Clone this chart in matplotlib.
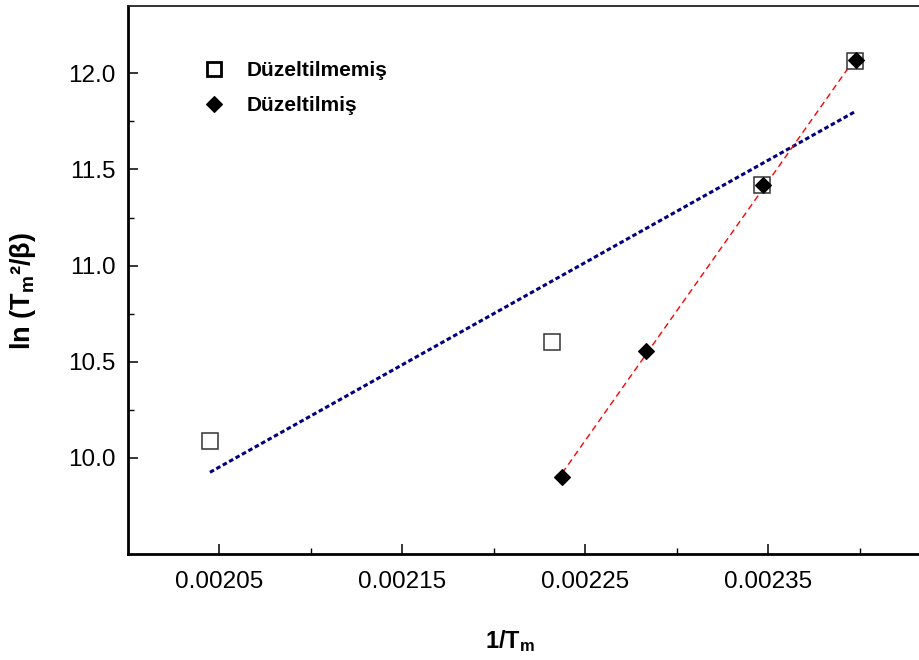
import numpy as np
import matplotlib
matplotlib.use("Agg")
import matplotlib.pyplot as plt
from matplotlib.ticker import FixedLocator, NullFormatter

# ---- data ----
x_uncorr = [0.0020448, 0.0022319, 0.0023468, 0.0023976]
y_uncorr = [10.09, 10.603, 11.418, 12.066]
x_corr = [0.0022374, 0.0022833, 0.0023473, 0.0023982]
y_corr = [9.903, 10.557, 11.418, 12.071]
label_uncorr = "Düzeltilmemiş"
label_corr = "Düzeltilmiş"
xtick_vals = [0.00205, 0.00215, 0.00225, 0.00235]
xtick_labels = ["0.00205", "0.00215", "0.00225", "0.00235"]
xminor_vals = [0.00210, 0.00220, 0.00230, 0.00240]
ytick_vals = [10.0, 10.5, 11.0, 11.5, 12.0]
ytick_labels = ["10.0", "10.5", "11.0", "11.5", "12.0"]
yminor_vals = [10.25, 10.75, 11.25, 11.75]

plt.rcParams['font.family'] = ['Liberation Sans', 'DejaVu Sans']
plt.rcParams['mathtext.fontset'] = 'custom'
plt.rcParams['mathtext.rm'] = 'Liberation Sans'
plt.rcParams['mathtext.bf'] = 'Liberation Sans:bold'
plt.rcParams['mathtext.it'] = 'Liberation Sans:italic'

fig = plt.figure(figsize=(9.2, 6.6), dpi=100)
ax = fig.add_axes([128/920, 1 - 554/660, 792/920, 548/660])

# regression lines
p1 = np.polyfit(x_uncorr, y_uncorr, 1)
xs1 = np.array([min(x_uncorr), max(x_uncorr)])
ax.plot(xs1, np.polyval(p1, xs1), color='#000080', lw=2.2,
        linestyle=(0, (1.5, 0.9)), zorder=2)
p2 = np.polyfit(x_corr, y_corr, 1)
xs2 = np.array([min(x_corr), max(x_corr)])
ax.plot(xs2, np.polyval(p2, xs2), color='#ff0000', lw=1.0,
        linestyle=(0, (4.5, 3)), zorder=2)

ax.plot(x_uncorr, y_uncorr, linestyle='none', marker='s', ms=12,
        mfc='white', mec='#333333', mew=1.1, zorder=3, label=label_uncorr)
ax.plot(x_corr, y_corr, linestyle='none', marker='D', ms=7.8,
        mfc='black', mec='black', mew=0.8, zorder=4, label=label_corr)

ax.set_xlim(0.0020, 0.002433)
ax.set_ylim(9.5, 12.35)

ax.xaxis.set_major_locator(FixedLocator(xtick_vals))
ax.set_xticklabels(xtick_labels)
ax.xaxis.set_minor_locator(FixedLocator(xminor_vals))
ax.yaxis.set_major_locator(FixedLocator(ytick_vals))
ax.set_yticklabels(ytick_labels)
ax.yaxis.set_minor_locator(FixedLocator(yminor_vals))
ax.xaxis.set_minor_formatter(NullFormatter())
ax.yaxis.set_minor_formatter(NullFormatter())

ax.tick_params(which='major', direction='in', length=7, width=1.1,
               labelsize=17.5, top=False, right=False)
ax.tick_params(axis='x', which='major', pad=12)
ax.tick_params(axis='y', which='major', pad=9)
ax.tick_params(which='minor', direction='in', length=4, width=1.0,
               top=False, right=False)

ax.spines['left'].set_linewidth(2.0)
ax.spines['bottom'].set_linewidth(2.0)
ax.spines['top'].set_linewidth(1.3)
ax.spines['top'].set_color('#222222')
ax.spines['right'].set_visible(False)

ax.set_ylabel(r'$\mathbf{ln\ (T_m²/β)}$', fontsize=19.5)
ax.yaxis.set_label_coords((38 - 128) / 792, (554 - 291) / 548)
ax.set_xlabel(r'$\mathbf{1/T_m}$', fontsize=17)
ax.xaxis.set_label_coords((510 - 128) / 792, (554 - 628) / 548)

leg = ax.legend(loc='upper left',
                bbox_to_anchor=((204 - 128) / 792, (554 - 61) / 548),
                frameon=False, handlelength=1.0,
                handletextpad=1.05, labelspacing=0.78, borderpad=0,
                borderaxespad=0, prop={'weight': 'bold', 'size': 15})
h0 = leg.legend_handles[0]
h0.set_markeredgecolor('black')
h0.set_markeredgewidth(2.0)
h0.set_markersize(10.5)

fig.savefig('out.png', dpi=100)
